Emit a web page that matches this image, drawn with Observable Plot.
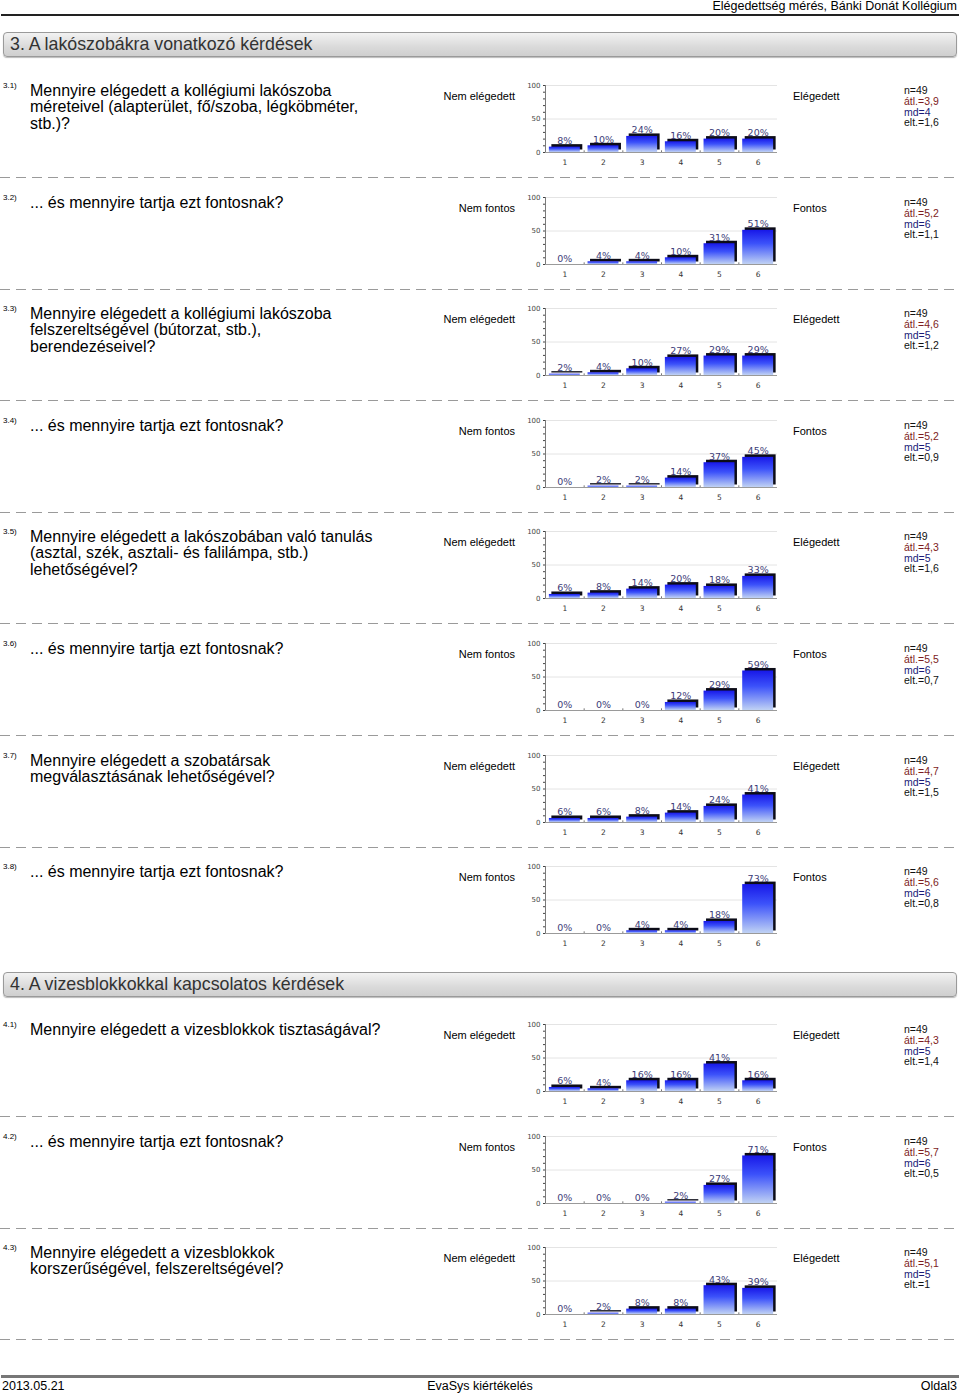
<!DOCTYPE html>
<html><head><meta charset="utf-8">
<script src="https://cdn.jsdelivr.net/npm/d3@7"></script>
<script src="https://cdn.jsdelivr.net/npm/@observablehq/plot@0.6"></script>
<style>
body{margin:0;background:#fff;font-family:"Liberation Sans",Arial,sans-serif;color:#000;}
#page{position:relative;width:960px;height:1395px;overflow:hidden;}
.abs{position:absolute;white-space:nowrap;}
svg{overflow:visible;}
</style></head><body><div id="page"></div>
<script>
// ---------- data ----------
const headerTitle = "Elégedettség mérés, Bánki Donát Kollégium";
const footerLeft = "2013.05.21";
const footerCenter = "EvaSys kiértékelés";
const footerRight = "Oldal3";
const sectionTitles = ["3. A lakószobákra vonatkozó kérdések", "4. A vizesblokkokkal kapcsolatos kérdések"];
const questionIds = ["3.1)", "3.2)", "3.3)", "3.4)", "3.5)", "3.6)", "3.7)", "3.8)", "4.1)", "4.2)", "4.3)"];
const questionSection = [0, 0, 0, 0, 0, 0, 0, 0, 1, 1, 1];
const questionTexts = [
  ["Mennyire elégedett a kollégiumi lakószoba", "méreteivel (alapterület, fő/szoba, légköbméter,", "stb.)?"],
  ["... és mennyire tartja ezt fontosnak?"],
  ["Mennyire elégedett a kollégiumi lakószoba", "felszereltségével (bútorzat, stb.),", "berendezéseivel?"],
  ["... és mennyire tartja ezt fontosnak?"],
  ["Mennyire elégedett a lakószobában való tanulás", "(asztal, szék, asztali- és falilámpa, stb.)", "lehetőségével?"],
  ["... és mennyire tartja ezt fontosnak?"],
  ["Mennyire elégedett a szobatársak", "megválasztásának lehetőségével?"],
  ["... és mennyire tartja ezt fontosnak?"],
  ["Mennyire elégedett a vizesblokkok tisztaságával?"],
  ["... és mennyire tartja ezt fontosnak?"],
  ["Mennyire elégedett a vizesblokkok", "korszerűségével, felszereltségével?"]
];
const leftLabels = ["Nem elégedett", "Nem fontos", "Nem elégedett", "Nem fontos", "Nem elégedett", "Nem fontos", "Nem elégedett", "Nem fontos", "Nem elégedett", "Nem fontos", "Nem elégedett"];
const rightLabels = ["Elégedett", "Fontos", "Elégedett", "Fontos", "Elégedett", "Fontos", "Elégedett", "Fontos", "Elégedett", "Fontos", "Elégedett"];
const scaleCategories = [1, 2, 3, 4, 5, 6];
const yTicks = [0, 10, 20, 30, 40, 50, 60, 70, 80, 90, 100];
const percentages = [
  [8, 10, 24, 16, 20, 20],
  [0, 4, 4, 10, 31, 51],
  [2, 4, 10, 27, 29, 29],
  [0, 2, 2, 14, 37, 45],
  [6, 8, 14, 20, 18, 33],
  [0, 0, 0, 12, 29, 59],
  [6, 6, 8, 14, 24, 41],
  [0, 0, 4, 4, 18, 73],
  [6, 4, 16, 16, 41, 16],
  [0, 0, 0, 2, 27, 71],
  [0, 2, 8, 8, 43, 39]
];
const nValues = [49, 49, 49, 49, 49, 49, 49, 49, 49, 49, 49];
const means = ["3,9", "5,2", "4,6", "5,2", "4,3", "5,5", "4,7", "5,6", "4,3", "5,7", "5,1"];
const medians = ["4", "6", "5", "5", "5", "6", "5", "6", "5", "6", "5"];
const deviations = ["1,6", "1,1", "1,2", "0,9", "1,6", "0,7", "1,5", "0,8", "1,4", "0,5", "1"];

// ---------- layout ----------
const page = document.getElementById("page");
const sectionBoxTop = [32, 972];
const sectionFirstBlock = [85, 1024];
const blockStep = 111.6;

function addText(txt, {left, right, top, size, color = "#000", lh, family, extra = ""}) {
  const d = document.createElement("div");
  d.className = "abs";
  d.textContent = txt;
  const lineH = lh || Math.round(size * 1.2);
  d.style.cssText += `font-size:${size}px;line-height:${lineH}px;color:${color};top:${top - lineH / 2}px;` +
    (left != null ? `left:${left}px;` : "") + (right != null ? `right:${960 - right}px;` : "") +
    (family ? `font-family:${family};` : "") + extra;
  page.appendChild(d);
  return d;
}

// header
addText(headerTitle, {right: 957, top: 6, size: 12.5});
const hl = document.createElement("div");
hl.className = "abs";
hl.style.cssText = "left:1px;top:14px;width:958px;height:2px;background:#222;";
page.appendChild(hl);

// footer
const fl = document.createElement("div");
fl.className = "abs";
fl.style.cssText = "left:1px;top:1375px;width:958px;height:3px;background:#777;";
page.appendChild(fl);
addText(footerLeft, {left: 2, top: 1386, size: 12.5});
addText(footerCenter, {left: 0, top: 1386, size: 12.5, extra: "width:960px;text-align:center;"});
addText(footerRight, {right: 957, top: 1386, size: 12.5});

// section boxes
sectionTitles.forEach((t, s) => {
  const b = document.createElement("div");
  b.className = "abs";
  b.style.cssText = `left:3px;top:${sectionBoxTop[s]}px;width:952px;height:23px;border:1px solid #9a9a9a;border-radius:4px;` +
    "background:linear-gradient(#f2f2f2,#dadada 60%,#cfcfcf);box-shadow:0 1px 1px #bbb;";
  page.appendChild(b);
  addText(t, {left: 10, top: sectionBoxTop[s] + 12.5, size: 17.8, color: "#333"});
});

function makeChart(vals, idx) {
  const data = scaleCategories.map((k, i) => ({k, v: vals[i]}));
  const gid = "barGrad" + idx;
  const defs = () => {
    const g = document.createElementNS("http://www.w3.org/2000/svg", "defs");
    g.innerHTML = `<linearGradient id="${gid}" x1="0" y1="0" x2="0" y2="1">
      <stop offset="0" stop-color="#1818e8"/><stop offset="0.4" stop-color="#3c52fa"/><stop offset="1" stop-color="#c0d2f4"/></linearGradient>`;
    return g;
  };
  const bounds = scaleCategories.slice(0, -1).map(k => k + 0.5);
  return Plot.plot({
    width: 260, height: 97,
    marginLeft: 25, marginRight: 3, marginTop: 10, marginBottom: 20,
    x: {domain: [0.5, 6.5], axis: null},
    y: {domain: [0, 100], axis: null},
    style: {fontFamily: "'DejaVu Sans', sans-serif", fontSize: "8px", background: "transparent", overflow: "visible"},
    marks: [
      defs,
      Plot.ruleY([50, 100], {stroke: "#e4e4e4"}),
      Plot.ruleY([0], {stroke: "#9a9a9a"}),
      Plot.ruleX([0.5], {y1: 0, y2: 100, stroke: "#7a7a7a"}),
      Plot.ruleX(bounds, {y1: 0, y2: 2.5, stroke: "#777"}),
      Plot.axisY(yTicks, {anchor: "left", label: null, tickSize: 2, tickPadding: 3, fontSize: 7, color: "#444",
        tickFormat: d => (d % 50 === 0 ? String(d) : "")}),
      Plot.axisX(scaleCategories, {anchor: "bottom", label: null, tickSize: 0, tickPadding: 7, fontSize: 7.5, color: "#333"}),
      Plot.rectY(data.filter(d => d.v > 0), {x1: d => d.k - 0.4, x2: d => d.k + 0.4, y: "v", fill: "#0c0c18", dx: 2.5, dy: -2.5}),
      Plot.rectY(data.filter(d => d.v > 0), {x1: d => d.k - 0.4, x2: d => d.k + 0.4, y: "v", fill: `url(#${gid})`}),
      Plot.text(data, {x: "k", y: "v", text: d => d.v + "%", lineAnchor: "bottom", dy: -3, fill: "#3c3c78", fontSize: 9.5})
    ]
  });
}

let counters = [0, 0];
questionIds.forEach((qid, i) => {
  const s = questionSection[i];
  const T = Math.round(sectionFirstBlock[s] + counters[s] * blockStep);
  counters[s]++;
  addText(qid, {left: 3, top: T + 1, size: 8});
  questionTexts[i].forEach((line, j) => addText(line, {left: 30, top: T + 6 + j * 16.3, size: 16, lh: 18}));
  addText(leftLabels[i], {right: 515, top: T + 11, size: 11});
  addText(rightLabels[i], {left: 793, top: T + 11, size: 11});
  const stats = [["n=" + nValues[i], "#111"], ["átl.=" + means[i], "#7d1c1c"], ["md=" + medians[i], "#1a1a78"], ["elt.=" + deviations[i], "#111"]];
  stats.forEach(([t, c], j) => addText(t, {left: 904, top: T + 5 + j * 10.8, size: 10.5, color: c, lh: 12}));
  const chart = makeChart(percentages[i], i);
  chart.style.position = "absolute";
  chart.style.left = "520px";
  chart.style.top = (T - 10) + "px";
  page.appendChild(chart);
  const isLastInSection = (i === questionIds.length - 1) || questionSection[i + 1] !== s;
  if (!isLastInSection || s === 1) {
    const sep = document.createElement("div");
    sep.className = "abs";
    sep.style.cssText = `left:0;top:${T + 92}px;width:960px;height:1px;` +
      "background:repeating-linear-gradient(90deg,#9a9a9a 0 10px,transparent 10px 16px);";
    page.appendChild(sep);
  }
});
</script></body></html>
